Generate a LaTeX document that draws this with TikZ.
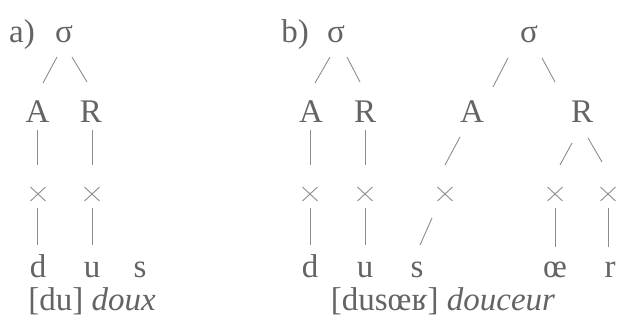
\documentclass[tikz,border=0pt]{standalone}
\usepackage{fontspec}
\setmainfont{Liberation Serif}
\usetikzlibrary{calc,shapes.misc}
\definecolor{ink}{RGB}{100,100,100}
\definecolor{linec}{RGB}{140,140,140}
\tikzset{
  lbl/.style={font=\fontsize{33}{33}\selectfont, text=ink, inner sep=0pt, anchor=base},
  xm/.style={cross out, draw=linec, line width=0.9pt, minimum width=14pt, minimum height=13pt, inner sep=0pt, anchor=center},
  conn/.style={draw=linec, line width=0.9pt}
}
\newcommand\mylink[4]{\draw[conn] ($(#1)+(#2)$) -- ($(#3)+(#4)$);}
\begin{document}
\begin{tikzpicture}[x=1pt,y=-1pt]
\useasboundingbox (0,0) rectangle (618,322);
% panel a
\node[lbl] (la) at (22,42) {a)};
\node[lbl] (sa) at (64,42) {σ};
\node[lbl] (Aa) at (37.5,122) {A};
\node[lbl] (Ra) at (91,122) {R};
\node[xm] (xa1) at (38,194) {};
\node[xm] (xa2) at (92,194) {};
\node[lbl] (da) at (38,277) {d};
\node[lbl] (ua) at (92,277) {u};
\node[lbl] (ssa) at (140,277) {s};
\node[lbl] (capa) at (92,310) {[du] \textit{doux}};
\mylink{sa.base}{-7,15}{Aa.base}{5.5,-39}
\mylink{sa.base}{8,15}{Ra.base}{-4,-40}
\mylink{Aa.base}{-0.5,8}{xa1}{-1,-29}
\mylink{Ra.base}{1,8}{xa2}{0,-29}
\mylink{xa1}{-1,14}{da.base}{-1,-32}
\mylink{xa2}{0,14}{ua.base}{0,-32}
% panel b, first syllable
\node[lbl] (lb) at (295,42) {b)};
\node[lbl] (sb1) at (336,42) {σ};
\node[lbl] (Ab1) at (311,122) {A};
\node[lbl] (Rb1) at (365,122) {R};
\node[xm] (xb1) at (310,194) {};
\node[xm] (xb2) at (365,194) {};
\node[lbl] (db) at (310,277) {d};
\node[lbl] (ub) at (365,277) {u};
\node[lbl] (sb) at (417,277) {s};
\mylink{sb1.base}{-6,15}{Ab1.base}{4,-39}
\mylink{sb1.base}{11,15}{Rb1.base}{-5,-40}
\mylink{Ab1.base}{-1,8}{xb1}{0,-29}
\mylink{Rb1.base}{0,8}{xb2}{0,-29}
\mylink{xb1}{0,14}{db.base}{0,-32}
\mylink{xb2}{0,14}{ub.base}{0,-32}
% panel b, second syllable
\node[lbl] (sb2) at (529,42) {σ};
\node[lbl] (Ab2) at (472,122) {A};
\node[lbl] (Rb2) at (582,122) {R};
\node[xm] (xb3) at (445,194) {};
\node[xm] (xb4) at (555,194) {};
\node[xm] (xb5) at (608,194) {};
\node[lbl] (oe) at (555,277) {œ};
\node[lbl] (rr) at (610,277) {r};
\node[lbl] (capb) at (443,310) {[dusœʁ] \textit{douceur}};
\mylink{sb2.base}{-21,16}{Ab2.base}{21,-35}
\mylink{sb2.base}{13,16}{Rb2.base}{-27,-40}
\mylink{Ab2.base}{-12,15}{xb3}{0,-29}
\mylink{xb3}{-13,24}{sb.base}{3,-32}
\mylink{Rb2.base}{-10,21}{xb4}{5,-29}
\mylink{Rb2.base}{6,16}{xb5}{-6,-32}
\mylink{xb4}{0,14}{oe.base}{0,-30}
\mylink{xb5}{0,14}{rr.base}{-2,-30}
\end{tikzpicture}
\end{document}
